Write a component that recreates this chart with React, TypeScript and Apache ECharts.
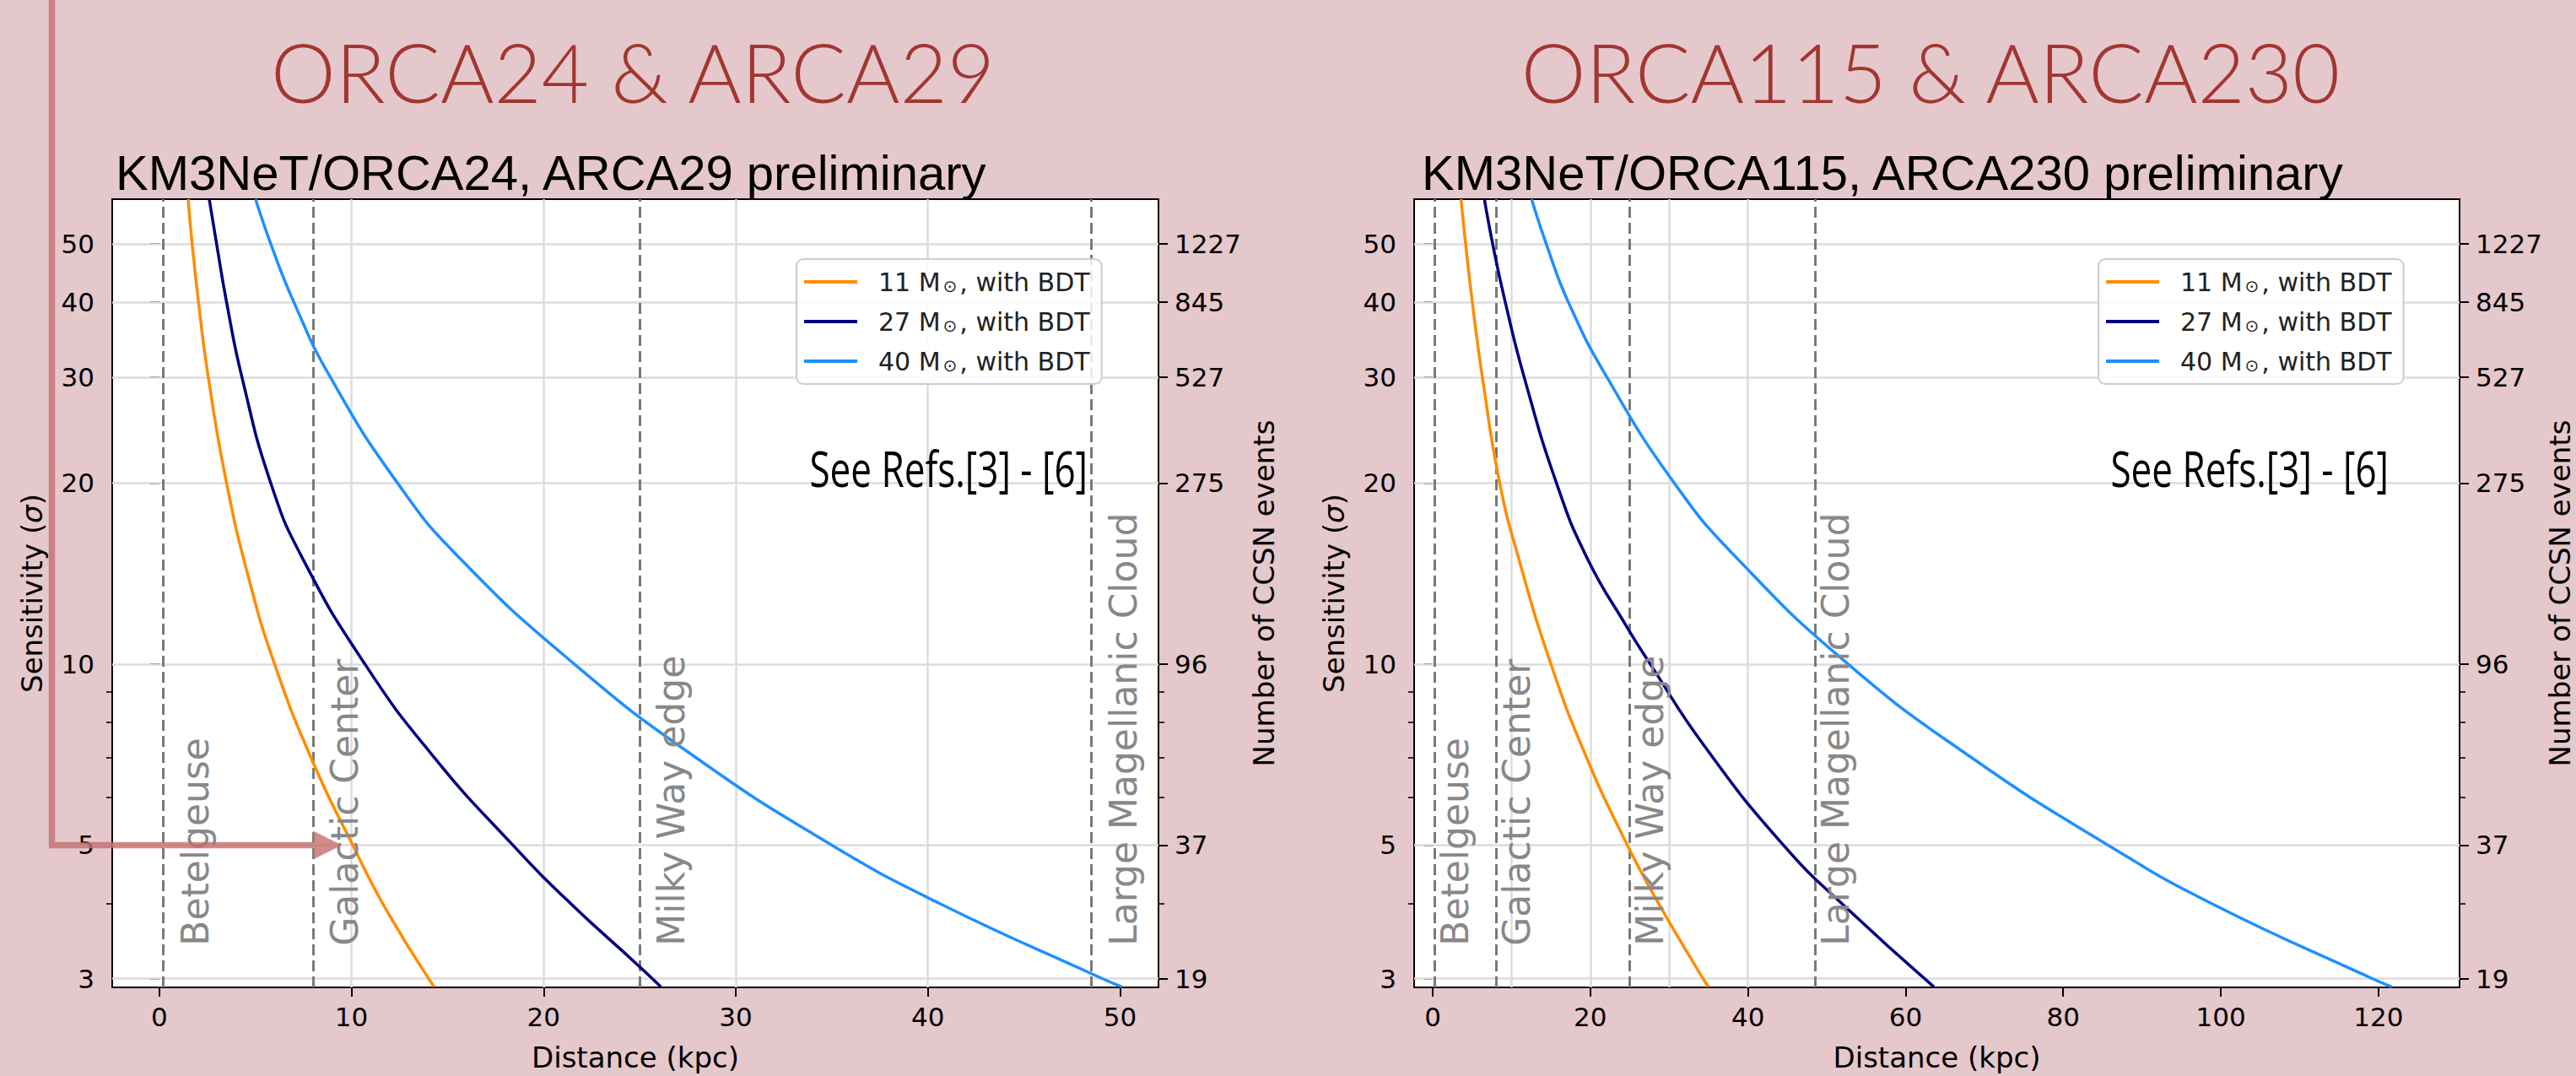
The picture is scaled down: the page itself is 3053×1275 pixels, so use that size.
import React, { useEffect, useRef } from "react";
import * as echarts from "echarts";

// ---------- data ----------
const massNames = ["11 M⊙, with BDT", "27 M⊙, with BDT", "40 M⊙, with BDT"];
const massColors = ["#ff8c00", "#000080", "#1e90ff"];

// [distance (kpc), sensitivity (sigma)] — ORCA24 & ARCA29
const orca24Mass11 = [[1.5, 59.3], [1.71, 50], [2.04, 40], [2.55, 30], [3.5, 20], [4.68, 13.8], [6.0, 10], [7.97, 6.9], [10.07, 5], [11.8, 3.91], [14.3, 2.906]];
const orca24Mass27 = [[2.6, 59.3], [2.98, 50], [3.5, 40], [4.3, 30], [5.8, 20], [7.45, 15], [10.7, 10], [14.3, 7], [18.4, 5], [21.4, 4], [24.9, 3.16], [26.1, 2.906]];
const orca24Mass40 = [[5.01, 59.3], [5.8, 50], [7.0, 40], [8.9, 30], [12.4, 20], [15.64, 15], [21.6, 10], [27.9, 7], [35.0, 5], [40.6, 4], [49.07, 3], [50.1, 2.906]];
// ORCA115 & ARCA230
const orca115Mass11 = [[3.6, 59.3], [4.17, 50], [5.02, 40], [6.3, 30], [8.5, 20], [10.9, 15], [15.0, 10], [19.5, 7], [24.7, 5], [28.65, 4], [34.3, 3], [35.0, 2.906]];
const orca115Mass27 = [[6.56, 59.3], [7.6, 50], [9.2, 40], [11.6, 30], [15.7, 20], [19.6, 15], [24.6, 11.55], [27.6, 10], [34.5, 7.3], [44.5, 5], [52.7, 3.91], [63.6, 2.906]];
const orca115Mass40 = [[12.55, 59.3], [14.4, 50], [17.2, 40], [22.1, 30], [30.65, 20], [38.6, 15], [52.7, 10], [68.3, 7], [85.7, 5], [98.8, 4], [119.2, 3], [121.7, 2.906]];

const sensitivityTicks = [3, 5, 10, 20, 30, 40, 50];
const sensitivityMinorTicks = [4, 6, 7, 8, 9];
const eventCountLabels = ["19", "37", "96", "275", "527", "845", "1227"];

const orca24DistanceTicks = [0, 10, 20, 30, 40, 50];
const orca115DistanceTicks = [0, 20, 40, 60, 80, 100, 120];
const orca24GridDistances = [10, 20, 30, 40];
const orca115GridDistances = [10, 20, 30, 40];

const landmarkNames = ["Betelgeuse", "Galactic Center", "Milky Way edge", "Large Magellanic Cloud"];
const landmarkDistances = [0.2, 8, 25, 48.5];

const panelTitles = ["ORCA24 & ARCA29", "ORCA115 & ARCA230"];
const panelSubtitles = ["KM3NeT/ORCA24, ARCA29 preliminary", "KM3NeT/ORCA115, ARCA230 preliminary"];
const refsNote = "See Refs.[3] - [6]";

// ---------- layout ----------
const BG = "#e5c8cc";
const panels = [
  {
    grid: { left: 133, top: 236, width: 1240, height: 958 },
    xMin: -2.45, xMax: 52,
    xTicks: orca24DistanceTicks, gridX: orca24GridDistances,
    curves: [orca24Mass11, orca24Mass27, orca24Mass40],
    legendLeft: 944, titleX: 750, subtitleX: 137, refsX: 1289, rightNameGap: 108,
  },
  {
    grid: { left: 1676, top: 236, width: 1239, height: 958 },
    xMin: -2.36, xMax: 130.3,
    xTicks: orca115DistanceTicks, gridX: orca115GridDistances,
    curves: [orca115Mass11, orca115Mass27, orca115Mass40],
    legendLeft: 2487, titleX: 2288, subtitleX: 1685, refsX: 2831, rightNameGap: 99,
  },
];

const SENS_MIN = 2.9;
const SENS_MAX = 59.3;
const TICK_FONT = { fontSize: 31, fontFamily: "DejaVu Sans", color: "#000" };
const NAME_FONT = { fontSize: 34, fontFamily: "DejaVu Sans", color: "#000" };

function findTick(v: number) {
  return sensitivityTicks.findIndex((t) => Math.abs(t - v) < 1e-6 * t);
}

function buildOption() {
  const grid: any[] = [];
  const xAxis: any[] = [];
  const yAxis: any[] = [];
  const series: any[] = [];
  const legend: any[] = [];

  panels.forEach((p, i) => {
    grid.push({ ...p.grid, show: true, backgroundColor: "#ffffff", borderColor: "#000", borderWidth: 2, containLabel: false });
    xAxis.push({
      gridIndex: i, type: "value", min: p.xMin, max: p.xMax,
      axisLine: { show: false },
      axisTick: { show: true, customValues: p.xTicks, length: 11, lineStyle: { color: "#000", width: 2 } },
      axisLabel: { show: true, customValues: p.xTicks, margin: 19, ...TICK_FONT },
      splitLine: { show: false },
      name: "Distance (kpc)", nameLocation: "middle", nameGap: 66, nameTextStyle: NAME_FONT,
    });
    const baseY = { gridIndex: i, type: "log", logBase: 10, min: SENS_MIN, max: SENS_MAX, axisLine: { show: false }, splitLine: { show: false }, minorTick: { show: false } };
    yAxis.push({
      ...baseY, position: "left",
      axisTick: { show: true, customValues: sensitivityTicks, length: 11, lineStyle: { color: "#000", width: 2 } },
      axisLabel: { show: true, customValues: sensitivityTicks, margin: 21, ...TICK_FONT, formatter: (v: number) => String(Math.round(v)) },
      name: "Sensitivity ({i|σ})", nameLocation: "middle", nameGap: 78, nameRotate: 90,
      nameTextStyle: { ...NAME_FONT, rich: { i: { ...NAME_FONT, fontStyle: "italic" } } },
    });
    yAxis.push({
      ...baseY, position: "left",
      axisTick: { show: true, customValues: sensitivityMinorTicks, length: 7, lineStyle: { color: "#000", width: 1.6 } },
      axisLabel: { show: false },
    });
    yAxis.push({
      ...baseY, position: "right",
      axisTick: { show: true, customValues: sensitivityTicks, length: 11, lineStyle: { color: "#000", width: 2 } },
      axisLabel: {
        show: true, customValues: sensitivityTicks, margin: 19, ...TICK_FONT,
        formatter: (v: number) => { const k = findTick(v); return k >= 0 ? eventCountLabels[k] : ""; },
      },
      name: "Number of CCSN events", nameLocation: "middle", nameGap: p.rightNameGap, nameRotate: 90, nameTextStyle: NAME_FONT,
    });
    yAxis.push({
      ...baseY, position: "right",
      axisTick: { show: true, customValues: sensitivityMinorTicks, length: 7, lineStyle: { color: "#000", width: 1.6 } },
      axisLabel: { show: false },
    });

    const yIdx = i * 4;
    series.push({
      type: "line", xAxisIndex: i, yAxisIndex: yIdx, data: [[p.xTicks[1], 10]], symbol: "none",
      lineStyle: { width: 0 }, z: 1, silent: true,
      markLine: {
        silent: true, symbol: ["none", "none"], animation: false, z: 1,
        label: { show: false },
        lineStyle: { color: "#dcdcdc", width: 2.5, type: "solid" },
        emphasis: { disabled: true },
        data: [
          ...p.gridX.map((x) => ({ xAxis: x })),
          ...sensitivityTicks.map((y) => ({ yAxis: y })),
        ],
      },
    });
    series.push({
      type: "line", xAxisIndex: i, yAxisIndex: yIdx, data: [[p.xTicks[1], 10]], symbol: "none",
      lineStyle: { width: 0 }, z: 2, silent: true,
      markLine: {
        silent: true, symbol: ["none", "none"], animation: false, z: 2,
        label: { show: false },
        lineStyle: { color: "#7a7a7a", width: 3, type: [13, 6] },
        emphasis: { disabled: true },
        data: landmarkDistances.map((d) => ({ xAxis: d })),
      },
    });
    p.curves.forEach((c, k) => {
      series.push({
        name: massNames[k], type: "line", xAxisIndex: i, yAxisIndex: yIdx,
        data: c, symbol: "none", smooth: 0.5, clip: true, z: 10,
        lineStyle: { color: massColors[k], width: 3.5 }, itemStyle: { color: massColors[k] },
      });
    });

    legend.push({
      data: massNames.map((n) => ({ name: n, icon: "rect" })),
      orient: "vertical", left: p.legendLeft, top: 307,
      padding: [12, 14, 12, 9], itemWidth: 63, itemHeight: 4, itemGap: 17,
      backgroundColor: "rgba(255,255,255,0.85)", borderColor: "#cccccc", borderWidth: 2, borderRadius: 8,
      selectedMode: false,
      formatter: (name: string) => {
        const parts = name.split("⊙");
        return `{a|${parts[0]}}{s|⊙}{a|${parts[1]}}`;
      },
      textStyle: {
        fontSize: 30, fontFamily: "DejaVu Sans", color: "#222", padding: [0, 0, 0, 20],
        rich: {
          a: { fontSize: 30, fontFamily: "DejaVu Sans", color: "#222", lineHeight: 30 },
          s: { fontSize: 20, fontFamily: "DejaVu Sans", color: "#222", lineHeight: 14, verticalAlign: "bottom", padding: [0, 3, 0, 3] },
        },
      },
    });
  });

  return {
    animation: false,
    backgroundColor: BG,
    grid, xAxis, yAxis, series, legend,
  };
}

function buildGraphics(chart: any) {
  const els: any[] = [];
  const ARROW = "rgb(196,110,110)";
  panels.forEach((p, i) => {
    els.push({
      type: "text", x: p.titleX, y: 84, z: 50,
      style: { text: panelTitles[i], fontSize: 97, fontFamily: "Lato", fontWeight: 300, fill: "#a23631", align: "center", verticalAlign: "middle", textAlign: "center", textVerticalAlign: "middle" },
    });
    els.push({
      type: "text", x: p.subtitleX, y: 204, z: 50,
      style: { text: panelSubtitles[i], fontSize: 58, fontFamily: "Liberation Sans", fill: "#000", align: "left", verticalAlign: "middle", textAlign: "left", textVerticalAlign: "middle" },
    });
    els.push({
      type: "text", x: p.refsX, y: 554, scaleX: 0.76, z: 50,
      style: { text: refsNote, fontSize: 58, fontFamily: "Open Sans", fill: "#000", align: "right", verticalAlign: "middle", textAlign: "right", textVerticalAlign: "middle" },
    });
    landmarkNames.forEach((name, k) => {
      const pt = chart.convertToPixel({ xAxisIndex: i, yAxisIndex: i * 4 }, [landmarkDistances[k] + 1, 3.4]);
      els.push({
        type: "text", x: pt[0] + 15, y: pt[1], rotation: Math.PI / 2, z: 40,
        style: { text: name, fontSize: 44, fontFamily: "DejaVu Sans", fill: "#888888", align: "left", verticalAlign: "middle", textAlign: "left", textVerticalAlign: "middle" },
      });
    });
  });
  const tip = chart.convertToPixel({ xAxisIndex: 0, yAxisIndex: 0 }, [9.5, 5]);
  const tipX = tip[0];
  const y5 = tip[1];
  els.push({
    type: "polyline", z: 60,
    shape: { points: [[61.5, 0], [61.5, y5], [tipX - 34, y5]] },
    style: { stroke: ARROW, lineWidth: 7.5, fill: null, opacity: 0.8, lineJoin: "miter" },
  });
  els.push({
    type: "polygon", z: 60,
    shape: { points: [[tipX - 34, y5 - 17], [tipX, y5], [tipX - 34, y5 + 17]] },
    style: { fill: ARROW, opacity: 0.8 },
  });
  return els;
}

export default function App() {
  const ref = useRef<HTMLDivElement>(null);
  useEffect(() => {
    if (!ref.current) return;
    const chart = echarts.init(ref.current, null, { renderer: "svg" });
    chart.setOption(buildOption() as any);
    chart.setOption({ graphic: { elements: buildGraphics(chart) } } as any);
    return () => chart.dispose();
  }, []);
  return (
    <div
      ref={ref}
      style={{ position: "fixed", left: 0, top: 0, width: 3053, height: 1275, background: BG }}
    />
  );
}
